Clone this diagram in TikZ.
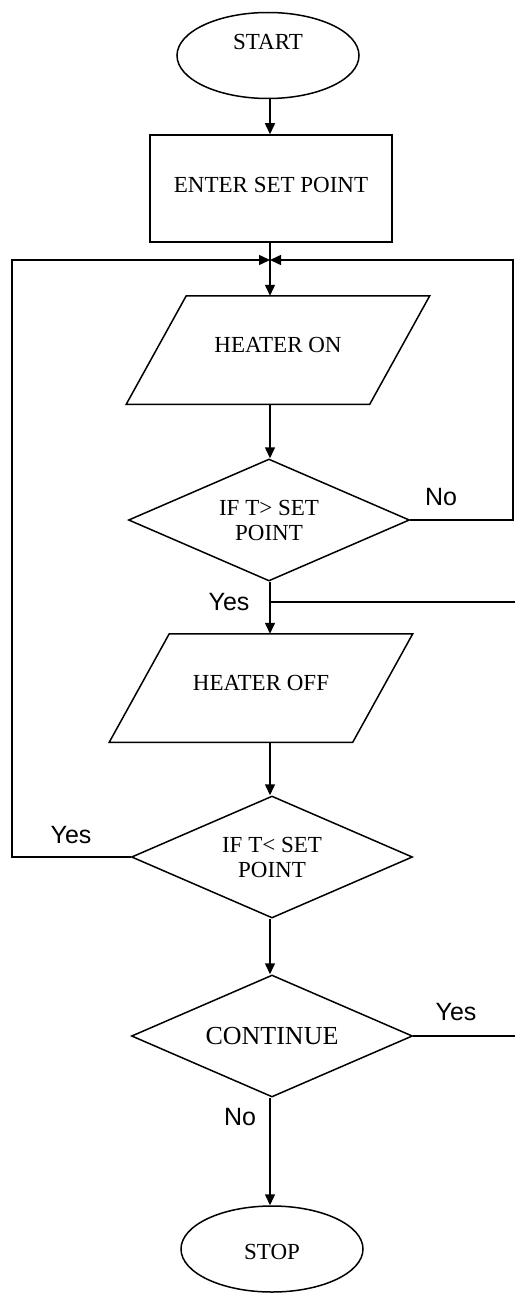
\documentclass[tikz,border=0pt]{standalone}
\usepackage{fontspec}
\setmainfont{Liberation Serif}
\newfontfamily\lsans{Liberation Sans}
\usetikzlibrary{shapes.geometric,arrows.meta}
\newcommand{\upto}[2]{\raisebox{#1}[0pt][0pt]{#2}}
\begin{document}
\begin{tikzpicture}[x=1pt,y=-1pt,
  base/.style={draw=black, line width=1.5pt, inner sep=0pt, font=\fontsize{23}{25}\selectfont, align=center},
  term/.style={base, ellipse, minimum width=182pt, minimum height=86pt},
  procbox/.style={base, rectangle, minimum width=242pt, minimum height=107pt},
  iobox/.style={base, draw=none, rectangle, minimum width=242pt, minimum height=107pt},
  slant/.style={draw=black, line width=1.5pt, line join=miter},
  decide/.style={base, diamond, aspect=2.3, minimum width=281pt, minimum height=122pt},
  lbl/.style={font=\lsans\fontsize{25}{28}\selectfont, inner sep=0pt},
  conn/.style={draw=black, line width=1.5pt, -{Triangle[width=10pt,length=11pt]}},
  wire/.style={draw=black, line width=1.5pt}
]
\useasboundingbox (0,0) rectangle (515,1295);
\fill[white] (0,0) rectangle (515,1295);

\node[term] (start) at (268,55.5) {\upto{6pt}{START}};
\node[procbox] (enter) at (271,188.5) {\upto{-3.5pt}{ENTER SET POINT}};
\node[iobox] (hon) at (278,350) {\upto{-2.5pt}{HEATER ON}};
\draw[slant] ([xshift=30pt]hon.north west) -- ([xshift=30pt]hon.north east) -- ([xshift=-30pt]hon.south east) -- ([xshift=-30pt]hon.south west) -- cycle;
\node[decide] (d1) at (269,520) {IF T> SET\\POINT};
\node[iobox] (hoff) at (261,688) {\upto{-2.5pt}{HEATER OFF}};
\draw[slant] ([xshift=30pt]hoff.north west) -- ([xshift=30pt]hoff.north east) -- ([xshift=-30pt]hoff.south east) -- ([xshift=-30pt]hoff.south west) -- cycle;
\node[decide] (d2) at (272,857) {IF T< SET\\POINT};
\node[decide, font=\fontsize{26}{28}\selectfont] (cont) at (272,1036) {CONTINUE};
\node[term] (stop) at (272,1249) {\upto{-10.5pt}{STOP}};

\coordinate (j) at (270,260);
\coordinate (rtop) at (513,260);
\coordinate (ltop) at (12,260);
\coordinate (yj) at (270,602);
\coordinate (rend1) at (515,602);
\coordinate (rend2) at (515,1036);

\node[lbl] (no1) at (441,497) {No};
\node[lbl] (yes1) at (229,602) {Yes};
\node[lbl] (yes2) at (71,835) {Yes};
\node[lbl] (yes3) at (456,1012) {Yes};
\node[lbl] (no2) at (240,1117) {No};

\draw[conn] (start.south -| j) -- (enter.north -| j);
\draw[conn] (enter.south -| j) -- (hon.north -| j);
\draw[conn] (d1.east) -- (d1.east -| rtop) -- (rtop) -- (j);
\draw[conn] (d2.west) -- (d2.west -| ltop) -- (ltop) -- (j);
\draw[conn] (hon.south -| j) -- (d1.north -| j);
\draw[conn] (d1.south -| j) -- (hoff.north -| j);
\draw[wire] (yj) -- (rend1);
\draw[conn] (hoff.south -| j) -- (d2.north -| j);
\draw[conn] (d2.south -| j) -- (cont.north -| j);
\draw[wire] (cont.east) -- (rend2);
\draw[conn] (cont.south -| j) -- (stop.north -| j);
\end{tikzpicture}
\end{document}
